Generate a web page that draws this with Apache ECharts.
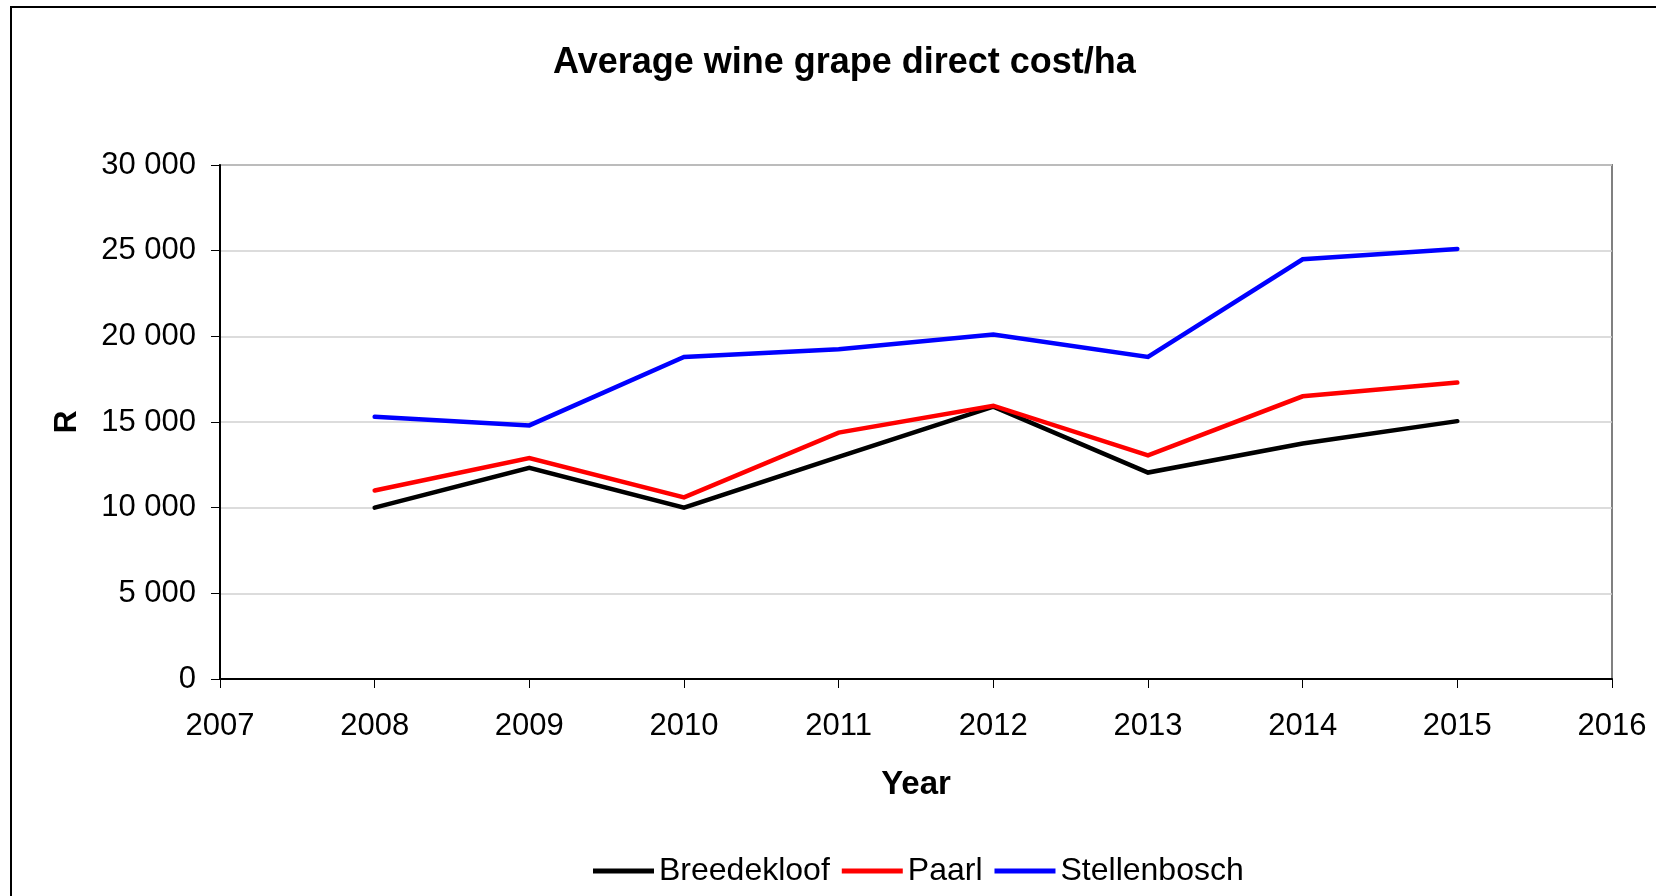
<!DOCTYPE html>
<html>
<head>
<meta charset="utf-8">
<title>Average wine grape direct cost/ha</title>
<script src="https://cdn.jsdelivr.net/npm/echarts@6/dist/echarts.min.js"></script>
<style>
  html, body { margin: 0; padding: 0; background: #ffffff; }
  #chart { width: 1656px; height: 896px; }
</style>
</head>
<body>
<div id="chart"></div>
<script>
// Years on the horizontal axis
const years = [2008, 2009, 2010, 2011, 2012, 2013, 2014, 2015];

// Average direct cost per hectare (R) by region
const breedekloof  = [10000, 12330, 10000, 12960, 15900, 12050, 13750, 15050];
const paarl        = [11000, 12900, 10600, 14380, 15950, 13050, 16500, 17300];
const stellenbosch = [15300, 14800, 18800, 19250, 20100, 18800, 24500, 25100];

const seriesNames = ['Breedekloof', 'Paarl', 'Stellenbosch'];
const seriesColors = ['#000000', '#ff0000', '#0000ff'];
const seriesValues = [breedekloof, paarl, stellenbosch];

const FONT = '"Liberation Sans", Arial, sans-serif';

function spaced(v) {
  return String(v).replace(/\B(?=(\d{3})+(?!\d))/g, ' ');
}

const chart = echarts.init(document.getElementById('chart'), null, { renderer: 'canvas' });

chart.setOption({
  backgroundColor: '#ffffff',
  animation: false,
  textStyle: { fontFamily: FONT },
  title: {
    text: 'Average wine grape direct cost/ha',
    left: 548,
    top: 40,
    textStyle: { fontFamily: FONT, fontSize: 36, fontWeight: 'bold', color: '#000000' }
  },
  graphic: [
    {
      type: 'rect',
      shape: { x: 11, y: 7, width: 1700, height: 1000 },
      style: { fill: null, stroke: '#000000', lineWidth: 2 },
      silent: true
    }
  ],
  legend: {
    left: 588,
    top: 850,
    icon: 'rect',
    itemWidth: 61,
    itemHeight: 5,
    itemGap: 12,
    textStyle: { fontFamily: FONT, fontSize: 32, color: '#000000', padding: [0, 0, 0, 0] },
    data: seriesNames
  },
  grid: {
    left: 220,
    right: 44,
    top: 165,
    bottom: 217,
    show: true,
    borderColor: '#808080',
    borderWidth: 2,
    containLabel: false
  },
  xAxis: {
    type: 'value',
    min: 2007,
    max: 2016,
    interval: 1,
    name: 'Year',
    nameLocation: 'middle',
    nameGap: 89,
    nameTextStyle: { fontFamily: FONT, fontSize: 33, fontWeight: 'bold', color: '#000000' },
    axisLine: { show: true, lineStyle: { color: '#000000', width: 2 } },
    axisTick: { show: true, inside: false, length: 9, lineStyle: { color: '#000000', width: 1 } },
    axisLabel: {
      fontFamily: FONT, fontSize: 31, color: '#000000', margin: 32,
      formatter: v => String(v)
    },
    splitLine: { show: false }
  },
  yAxis: {
    type: 'value',
    min: 0,
    max: 30000,
    interval: 5000,
    name: 'R',
    nameLocation: 'middle',
    nameRotate: 90,
    nameGap: 137,
    nameTextStyle: { fontFamily: FONT, fontSize: 32, fontWeight: 'bold', color: '#000000' },
    axisLine: { show: true, lineStyle: { color: '#000000', width: 2 } },
    axisTick: { show: true, inside: false, length: 9, lineStyle: { color: '#000000', width: 1 } },
    axisLabel: {
      fontFamily: FONT, fontSize: 31, color: '#000000', margin: 24,
      formatter: v => spaced(v)
    },
    splitLine: { show: true, lineStyle: { color: '#d0d0d0', width: 1.5 } }
  },
  series: seriesNames.map((name, i) => ({
    name: name,
    type: 'line',
    data: years.map((y, j) => [y, seriesValues[i][j]]),
    showSymbol: false,
    symbol: 'none',
    itemStyle: { color: seriesColors[i] },
    lineStyle: { color: seriesColors[i], width: 4.5, cap: 'round', join: 'miter' },
    z: 3 + i
  }))
});
</script>
</body>
</html>
